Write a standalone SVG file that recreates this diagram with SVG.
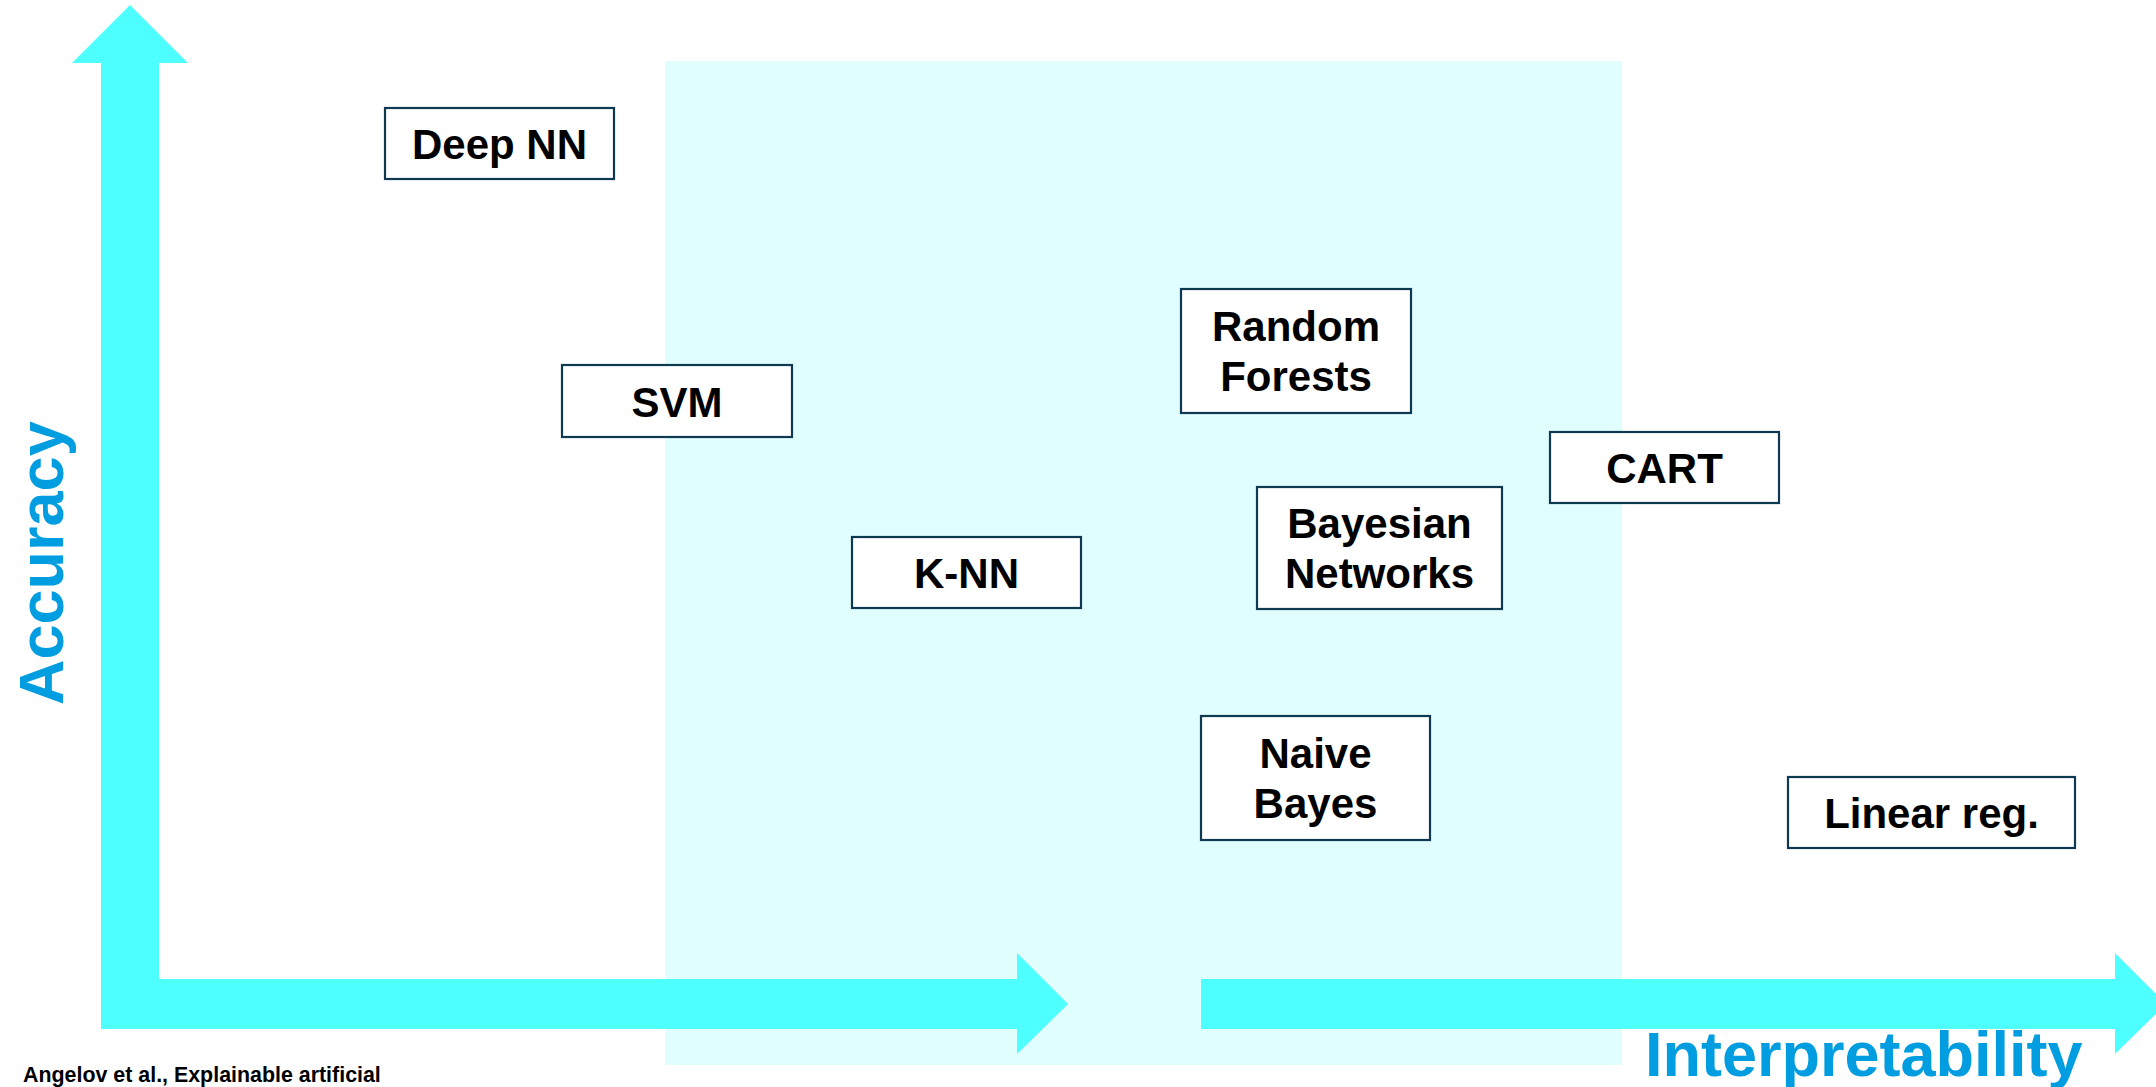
<svg xmlns="http://www.w3.org/2000/svg" width="2156" height="1087" viewBox="0 0 2156 1087">
  <style>
    .node rect { fill: #ffffff; stroke: #0d3a50; stroke-width: 2.2; }
    .node text { font-family: "Liberation Sans", Arial, sans-serif; font-weight: bold; font-size: 42px; fill: #000000; text-anchor: middle; }
    .axis { fill: #4dffff; }
    .axis-label { font-family: "Liberation Sans", Arial, sans-serif; font-weight: bold; font-size: 63px; fill: #009ee0; }
    .cite { font-family: "Liberation Sans", Arial, sans-serif; font-weight: bold; font-size: 21.4px; fill: #000000; }
  </style>

  <rect width="2156" height="1087" fill="#ffffff"/>

  <!-- middle band -->
  <rect id="band" x="665" y="61" width="957" height="1004" fill="#e0fefe"/>

  <!-- axes -->
  <g id="connectors">
    <polygon class="axis" points="130,5 188,63 159,63 159,979 1017,979 1017,953 1068,1004 1017,1054 1017,1029 101,1029 101,63 72,63"/>
    <polygon class="axis" points="1201,979 2115,979 2115,953 2166,1004 2115,1054 2115,1029 1201,1029"/>
  </g>

  <text class="axis-label" transform="translate(63,705) rotate(-90)">Accuracy</text>
  <text class="axis-label" x="1645" y="1076">Interpretability</text>

  <g id="deep-nn" class="node">
    <rect x="385" y="108" width="229" height="71"/>
    <text x="499.5" y="159">Deep NN</text>
  </g>

  <g id="svm" class="node">
    <rect x="562" y="365" width="230" height="72"/>
    <text x="677" y="417">SVM</text>
  </g>

  <g id="k-nn" class="node">
    <rect x="852" y="537" width="229" height="71"/>
    <text x="966.5" y="588">K-NN</text>
  </g>

  <g id="random-forests" class="node">
    <rect x="1181" y="289" width="230" height="124"/>
    <text x="1296" y="341">Random</text>
    <text x="1296" y="391">Forests</text>
  </g>

  <g id="bayesian-networks" class="node">
    <rect x="1257" y="487" width="245" height="122"/>
    <text x="1379.5" y="538">Bayesian</text>
    <text x="1379.5" y="588">Networks</text>
  </g>

  <g id="cart" class="node">
    <rect x="1550" y="432" width="229" height="71"/>
    <text x="1664.5" y="483">CART</text>
  </g>

  <g id="naive-bayes" class="node">
    <rect x="1201" y="716" width="229" height="124"/>
    <text x="1315.5" y="768">Naive</text>
    <text x="1315.5" y="818">Bayes</text>
  </g>

  <g id="linear-reg" class="node">
    <rect x="1788" y="777" width="287" height="71"/>
    <text x="1931.5" y="828">Linear reg.</text>
  </g>

  <text class="cite" x="23" y="1082">Angelov et al., Explainable artificial</text>
</svg>
